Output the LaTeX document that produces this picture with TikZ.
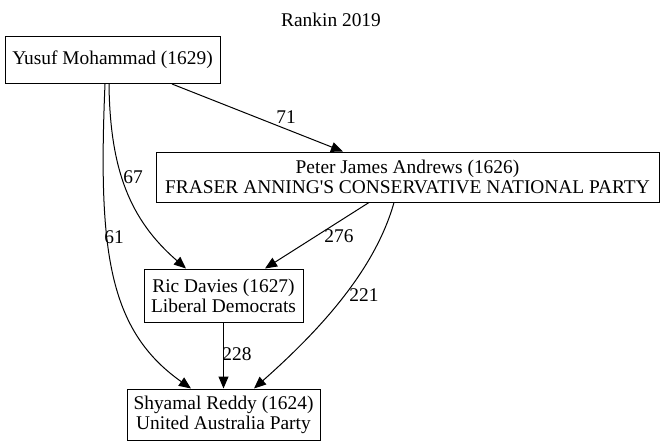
\documentclass[tikz,border=0pt]{standalone}
\usepackage{fontspec}
\setmainfont{Liberation Serif}
\newfontfamily\graphfont{Liberation Serif}
\usetikzlibrary{arrows.meta,positioning}
\tikzset{
    candbox/.style={
        rectangle, draw=black, line width=1pt, fill=white, align=center,
        inner sep=0pt, font=\graphfont\fontsize{19.4}{20}\selectfont
    },
    flow/.style={-{Triangle[length=12pt,width=10pt]}, line width=1pt, draw=black},
    edgelbl/.style={font=\graphfont\fontsize{19.4}{20}\selectfont, inner sep=0pt}
}

\begin{document}
\begin{tikzpicture}[x=1pt, y=-1pt]
        \useasboundingbox (0,0) rectangle (662,445);
        % title
        \node[font=\graphfont\fontsize{19.4}{20}\selectfont] (title) at (331,20) {Rankin 2019};
        % candidates
        \node[candbox, minimum width=215pt, minimum height=47pt] (yusuf) at (112.5,60) {Yusuf Mohammad (1629)};
        \node[candbox, minimum width=503pt, minimum height=50pt] (peter) at (407.5,177)
            {Peter James Andrews (1626)\\FRASER ANNING{\char"0027}S CONSERVATIVE NATIONAL PARTY};
        \node[candbox, minimum width=159pt, minimum height=53pt] (ric) at (223.5,295.5)
            {Ric Davies (1627)\\Liberal Democrats};
        \node[candbox, minimum width=193pt, minimum height=51pt] (shyamal) at (223.5,414.5)
            {Shyamal Reddy (1624)\\United Australia Party};
        % preference flows
        \draw[flow] (yusuf.south -| 172,0) -- (peter.north -| 343,0);
        \draw[flow] (yusuf.south -| 109,0) .. controls (110,170) and (130,220) .. (ric.north -| 186,0);
        \draw[flow] (yusuf.south -| 105,0) .. controls (98,250) and (108,330) .. (shyamal.north -| 191,0);
        \draw[flow] (peter.south -| 369,0) -- (ric.north -| 265,0);
        \draw[flow] (peter.south -| 394,0) .. controls (375,270) and (320,330) .. (shyamal.north -| 254,0);
        \draw[flow] (ric) -- (shyamal);
        % flow counts
        \node[edgelbl] (l71) at (286,117) {71};
        \node[edgelbl] (l67) at (133,177) {67};
        \node[edgelbl] (l61) at (114,237) {61};
        \node[edgelbl] (l276) at (339,236) {276};
        \node[edgelbl] (l221) at (364,295) {221};
        \node[edgelbl] (l228) at (237,354) {228};
    \end{tikzpicture}
\end{document}
